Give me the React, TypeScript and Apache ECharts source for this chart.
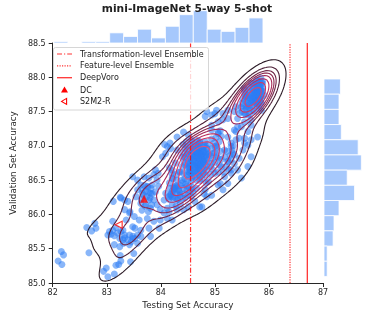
import React, { useEffect, useRef } from "react";
import * as echarts from "echarts";

// [testing set accuracy, validation set accuracy] of the ensembles
const lowerClusterAcc: [number, number][] = [
  [82.63, 85.81], [82.72, 85.76], [82.78, 85.87], [82.8, 85.8], [82.16, 85.46], [82.2, 85.41], [82.1, 85.32], [82.17, 85.27], [82.67, 85.44], [82.99, 85.22],
  [82.94, 85.17], [83.02, 85.09], [83.14, 85.13], [83.17, 85.26], [83.22, 85.27], [83.26, 85.32], [83.25, 85.4], [83.44, 85.31], [83.12, 86.19], [83.25, 86.25],
  [83.33, 86.21], [83.43, 86.04], [83.36, 85.92], [83.14, 85.56], [83.24, 85.53], [83.31, 85.58], [83.39, 85.63], [83.48, 85.65], [83.57, 85.7], [83.33, 85.7],
  [83.5, 85.43], [83.05, 85.75], [83.11, 85.77], [83.17, 85.81], [83.02, 85.7], [83.08, 85.71], [83.14, 85.69], [83.2, 85.73], [83.24, 85.65], [83.3, 85.63],
  [83.26, 85.75], [83.42, 85.7], [83.45, 85.6], [83.11, 85.9], [83.52, 85.8], [83.52, 85.65],
];
const middleClusterAcc: [number, number][] = [
  [84.12, 86.99], [84.18, 86.96], [84.09, 86.89], [83.48, 86.55], [83.57, 86.5], [83.69, 86.55], [83.78, 86.53], [83.87, 86.58], [83.93, 86.5], [83.63, 86.43],
  [83.75, 86.41], [83.84, 86.43], [83.57, 86.36], [83.66, 86.31], [83.81, 86.31], [83.9, 86.33], [83.54, 86.26], [83.78, 86.21], [83.87, 86.21], [83.63, 86.16],
  [83.72, 86.14], [83.81, 86.09], [83.93, 86.14], [83.99, 86.07], [84.06, 86.21], [84.12, 86.09], [84.21, 86.14], [84.3, 86.07], [84.42, 86.07], [83.39, 86.19],
  [83.33, 86.07], [83.42, 86.02], [83.26, 86.24], [83.51, 85.97], [83.6, 85.92], [83.75, 85.94], [83.87, 85.9], [83.99, 85.92], [84.12, 85.94], [83.48, 85.82],
  [83.63, 85.77], [83.78, 85.8], [83.33, 85.66], [83.48, 85.68], [83.63, 85.68], [83.3, 85.77], [83.81, 85.68], [83.97, 85.8], [83.57, 85.58], [83.42, 85.56],
  [84.21, 86.65], [84.3, 86.5], [84.24, 86.38], [84.36, 86.31], [84.45, 86.24], [84.3, 86.21], [84.51, 86.11], [84.63, 86.19], [84.72, 86.11], [84.57, 86.36],
  [84.15, 86.26], [84.17, 87.04], [84.03, 86.84], [83.9, 86.65], [83.95, 86.6], [83.96, 86.41], [84.8, 86.3], [85.1, 86.45], [84.85, 86.26], [84.94, 86.28],
  [84.76, 86.11], [84.06, 86.02], [84.15, 86.04], [84.21, 85.92],
];
const centralClusterAcc: [number, number][] = [
  [85.0, 87.47], [84.82, 87.43], [85.15, 87.38], [84.51, 87.16], [84.57, 87.09], [84.94, 87.23], [85.06, 87.18], [85.24, 87.13], [85.42, 87.28], [85.39, 87.09],
  [84.07, 87.02], [84.3, 86.94], [84.48, 86.99], [84.7, 87.04], [84.82, 87.01], [85.0, 86.99], [85.18, 86.94], [85.33, 86.89], [85.45, 86.82], [84.39, 86.84],
  [84.57, 86.87], [84.72, 86.89], [84.88, 86.87], [85.06, 86.82], [85.24, 86.77], [84.27, 86.75], [84.45, 86.72], [84.63, 86.77], [84.79, 86.77], [84.94, 86.75],
  [85.12, 86.7], [85.3, 86.65], [84.16, 86.68], [84.36, 86.62], [84.54, 86.65], [84.7, 86.67], [84.85, 86.65], [85.0, 86.6], [85.18, 86.55], [84.21, 86.53],
  [84.39, 86.5], [84.57, 86.53], [84.72, 86.5], [84.88, 86.48], [85.06, 86.43], [84.27, 86.41], [84.48, 86.41], [84.66, 86.38], [84.82, 86.36], [84.09, 86.31],
  [84.6, 86.8], [84.65, 86.9], [84.75, 86.85], [84.62, 86.7], [84.68, 86.62], [84.55, 86.75], [84.8, 86.92], [84.58, 86.95], [84.7, 86.72], [84.66, 86.83],
  [84.52, 86.58], [84.78, 86.6], [84.5, 86.88], [84.85, 86.8], [84.63, 86.55], [84.73, 86.97], [84.3, 87.13], [84.42, 87.2],
];
const centralCoreAcc: [number, number][] = [
  [84.62, 86.78], [84.68, 86.85], [84.72, 86.78], [84.66, 86.74], [84.74, 86.92], [84.6, 86.88], [84.7, 86.95], [84.64, 86.68], [84.76, 86.7], [84.58, 86.72],
  [84.68, 87.0], [84.8, 86.85], [84.55, 86.82], [84.72, 86.64], [84.64, 86.62], [84.78, 86.98], [84.6, 86.6], [84.84, 86.9], [84.52, 86.68], [84.7, 86.82],
  [84.66, 86.92], [84.74, 86.75], [84.62, 86.95], [84.56, 86.9], [84.82, 86.72], [84.7, 86.58], [84.58, 86.64], [84.76, 86.88], [84.68, 86.7], [84.64, 86.84],
  [84.5, 86.78], [84.86, 86.96], [84.6, 87.02], [84.8, 86.66], [84.54, 86.6], [84.72, 87.06], [84.66, 86.98], [84.78, 86.8], [84.62, 86.86], [84.7, 86.9],
];
const upperClusterAcc: [number, number][] = [
  [84.85, 87.5], [84.94, 87.45], [85.03, 87.52], [85.15, 87.47], [85.24, 87.52], [85.39, 87.57], [85.42, 87.4], [85.55, 87.35], [85.49, 87.28], [85.39, 87.21],
  [85.45, 87.11], [85.61, 87.21], [85.67, 87.3], [85.3, 87.04], [85.55, 87.04], [85.67, 87.09], [85.79, 87.13], [85.52, 86.94], [85.36, 86.87], [85.67, 86.84],
  [85.61, 86.7], [85.42, 86.65], [85.3, 86.6], [85.49, 86.53], [85.24, 86.45], [85.15, 86.36], [85.36, 87.5], [85.24, 87.4], [85.06, 87.35], [84.94, 87.3],
  [85.36, 87.23], [85.55, 87.11], [85.3, 86.99], [85.61, 87.01],
  [85.7, 87.91], [85.79, 87.89], [85.88, 87.94], [85.85, 87.81], [85.73, 87.79], [85.64, 87.74], [85.79, 87.72], [85.91, 87.74], [85.67, 87.64], [85.76, 87.62],
  [85.85, 87.64], [85.58, 87.57], [85.7, 87.52], [85.82, 87.55], [85.55, 87.47], [85.64, 87.47], [85.85, 87.99], [85.76, 87.94], [85.67, 87.91], [85.88, 87.91],
  [85.79, 87.86], [85.7, 87.81], [85.85, 87.79], [85.73, 87.72], [85.82, 87.69], [85.69, 87.67], [85.78, 87.58], [85.64, 87.55], [85.73, 87.5], [85.61, 87.45],
  [85.55, 87.81], [85.58, 87.72], [85.86, 87.52], [85.67, 87.38],
];
const upperCoreAcc: [number, number][] = [
  [85.78, 87.74], [85.82, 87.8], [85.74, 87.66], [85.8, 87.62], [85.86, 87.72], [85.76, 87.84], [85.84, 87.86], [85.72, 87.76], [85.8, 87.7], [85.88, 87.8],
  [85.7, 87.7], [85.78, 87.9], [85.84, 87.66], [85.76, 87.78], [85.82, 87.94],
];
// points hidden under the dense, overlapping areas (placed so the marginal histograms add up)
const hiddenUpperAcc: [number, number][] = [
  [85.68, 87.58], [85.72, 87.62], [85.76, 87.66], [85.8, 87.74], [85.84, 87.76], [85.88, 87.84], [85.7, 87.72], [85.74, 87.8], [85.78, 87.82], [85.82, 87.88],
  [85.86, 87.92], [85.72, 87.86], [85.76, 87.7], [85.8, 87.6], [85.84, 87.7], [85.68, 87.68], [85.74, 87.9], [85.78, 87.96], [85.82, 87.84], [85.86, 87.62],
  [85.7, 87.78], [85.8, 87.8], [85.76, 87.76], [85.84, 87.82],
  [85.5, 87.5], [85.53, 87.58], [85.56, 87.66], [85.59, 87.74], [85.62, 87.82], [85.64, 87.6], [85.52, 87.68], [85.55, 87.76], [85.58, 87.54], [85.61, 87.62],
  [85.63, 87.7], [85.46, 87.48], [85.5, 87.62], [85.54, 87.84], [85.57, 87.46], [85.6, 87.56], [85.62, 87.76], [85.48, 87.56], [85.56, 87.72], [85.6, 87.66],
  [85.64, 87.86],
  [85.16, 86.62], [85.2, 86.7], [85.24, 86.78], [85.28, 86.86], [85.32, 86.94], [85.36, 86.74], [85.18, 86.84], [85.22, 86.92], [85.26, 86.66], [85.3, 86.8],
  [85.34, 87.0],
];
const hiddenCentralAcc: [number, number][] = [
  [84.92, 86.7], [84.96, 86.82], [85.0, 86.9], [85.04, 86.98], [85.08, 87.06], [85.12, 87.14], [84.94, 86.96], [84.98, 87.04], [85.02, 87.12], [85.06, 87.2],
  [85.1, 86.92], [84.92, 86.86], [84.96, 86.66], [85.0, 86.76], [85.04, 86.84], [85.08, 86.72], [85.12, 86.8], [84.94, 87.1], [84.98, 86.9], [85.02, 87.0],
  [85.06, 86.62], [84.92, 86.58], [85.1, 87.22],
  [84.65, 86.7], [84.68, 86.76], [84.71, 86.82], [84.74, 86.88], [84.77, 86.94], [84.8, 87.0], [84.83, 86.86], [84.86, 86.78], [84.66, 86.92], [84.69, 86.98],
  [84.72, 87.04], [84.75, 86.68], [84.78, 86.74], [84.81, 86.8], [84.84, 86.96], [84.87, 87.02], [84.67, 86.86], [84.7, 86.66], [84.73, 86.72], [84.76, 86.84],
  [84.79, 86.9], [84.82, 87.06], [84.85, 86.7], [84.88, 86.88], [84.68, 87.08], [84.74, 86.8], [84.8, 86.76], [84.7, 86.88],
  [84.66, 86.5], [84.72, 86.56], [84.78, 86.62], [84.84, 86.46], [84.7, 86.6], [84.76, 86.52], [84.82, 86.58],
  [84.4, 86.7], [84.43, 86.76], [84.46, 86.82], [84.49, 86.88], [84.52, 86.94], [84.55, 87.0], [84.58, 87.06], [84.61, 86.72], [84.42, 86.9], [84.45, 86.96],
  [84.48, 86.68], [84.51, 86.74], [84.54, 86.8], [84.57, 86.86], [84.6, 86.92], [84.62, 86.98], [84.41, 87.02], [84.47, 87.06], [84.53, 86.7], [84.59, 86.78],
  [84.44, 86.84], [84.56, 86.9],
  [84.4, 86.46], [84.44, 86.52], [84.48, 86.58], [84.52, 86.62], [84.56, 86.48], [84.6, 86.56], [84.42, 86.6], [84.5, 86.5], [84.58, 86.62], [84.46, 86.44],
  [84.4, 86.24], [84.44, 86.3], [84.48, 86.36], [84.52, 86.4], [84.56, 86.26], [84.6, 86.32], [84.42, 86.38], [84.5, 86.28], [84.58, 86.4], [84.54, 86.34],
];
const hiddenLowerAcc: [number, number][] = [
  [84.16, 86.46], [84.22, 86.52], [84.28, 86.58], [84.34, 86.62], [84.2, 86.6],
  [84.15, 86.22], [84.18, 86.28], [84.21, 86.34], [84.24, 86.4], [84.27, 86.24], [84.3, 86.3], [84.33, 86.36], [84.36, 86.42], [84.17, 86.38], [84.2, 86.26],
  [84.23, 86.32], [84.26, 86.38], [84.29, 86.42], [84.32, 86.22], [84.35, 86.28], [84.19, 86.3], [84.25, 86.36], [84.31, 86.4], [84.34, 86.34], [84.22, 86.24],
  [84.28, 86.12], [84.36, 86.16],
  [83.64, 86.22], [83.68, 86.28], [83.72, 86.34], [83.76, 86.4], [83.8, 86.24], [83.84, 86.3], [83.66, 86.36], [83.7, 86.42], [83.74, 86.26], [83.78, 86.32],
  [83.82, 86.38], [83.65, 86.06], [83.71, 86.12], [83.77, 86.04], [83.83, 86.14],
];

// marginal histograms (counts)
const testHistCounts = [4, 0, 4, 4, 28, 18, 38, 14, 46, 78, 89, 38, 32, 43, 69];
const testHistStart = 82.09;
const testHistBinWidth = 0.2543;
const valHistCountsTopDown = [36, 33, 33, 38, 75, 82, 51, 67, 33, 22, 20, 7, 7];
const valHistTop = 87.975;
const valHistBinWidth = 0.2215;

// reference methods
const transformationEnsembleAcc = 84.55;
const featureEnsembleAcc = 86.39;
const deepVoroAcc = 86.71;
const dcAcc: [number, number] = [83.69, 86.23];
const s2m2rAcc: [number, number] = [83.22, 85.85];

const legendLabels = ["Transformation-level Ensemble", "Feature-level Ensemble", "DeepVoro", "DC", "S2M2-R"];

const X_MIN = 82, X_MAX = 87, X_STEP = 1;
const Y_MIN = 85, Y_MAX = 88.5, Y_STEP = 0.5;

const FONT = "DejaVu Sans";
const RED = "rgba(255,0,0,0.8)";
const DASH_DOT = [5, 2, 1.2, 2];
const DOTTED = [1.2, 1.3];
const BW_ADJUST = 0.82;
const KERNEL_CORR_SCALE = 0.75;
const contourColors = ["#2b1a26", "#4d2038", "#6e2446", "#8b2750", "#a52a58", "#bb2f5e", "#cf3865", "#dd436d", "#e84f75"];

// ---- Gaussian KDE (scott bandwidth, full covariance) + iso-proportion contours ----
function kde2d(pts: [number, number][], gridN: number) {
  const n = pts.length;
  let mx = 0, my = 0;
  pts.forEach(([x, y]) => { mx += x; my += y; });
  mx /= n; my /= n;
  let sxx = 0, syy = 0, sxy = 0;
  pts.forEach(([x, y]) => { sxx += (x - mx) ** 2; syy += (y - my) ** 2; sxy += (x - mx) * (y - my); });
  sxx /= n - 1; syy /= n - 1; sxy /= n - 1;
  const f = Math.pow(n, -1 / 6) * BW_ADJUST;
  const cxx = sxx * f * f, cyy = syy * f * f, cxy = sxy * f * f * KERNEL_CORR_SCALE;
  const det = cxx * cyy - cxy * cxy;
  const ixx = cyy / det, iyy = cxx / det, ixy = -cxy / det;
  const norm = 1 / (n * 2 * Math.PI * Math.sqrt(det));
  const bwx = Math.sqrt(cxx), bwy = Math.sqrt(cyy);
  const xs = pts.map((p) => p[0]), ys = pts.map((p) => p[1]);
  const x0 = Math.min(...xs) - 3 * bwx, x1 = Math.max(...xs) + 3 * bwx;
  const y0 = Math.min(...ys) - 3 * bwy, y1 = Math.max(...ys) + 3 * bwy;
  const gx: number[] = [], gy: number[] = [];
  for (let i = 0; i < gridN; i++) gx.push(x0 + ((x1 - x0) * i) / (gridN - 1));
  for (let j = 0; j < gridN; j++) gy.push(y0 + ((y1 - y0) * j) / (gridN - 1));
  const z: number[][] = [];
  for (let j = 0; j < gridN; j++) {
    const row: number[] = [];
    for (let i = 0; i < gridN; i++) {
      let s = 0;
      for (let k = 0; k < n; k++) {
        const dx = gx[i] - pts[k][0], dy = gy[j] - pts[k][1];
        s += Math.exp(-0.5 * (ixx * dx * dx + 2 * ixy * dx * dy + iyy * dy * dy));
      }
      row.push(s * norm);
    }
    z.push(row);
  }
  return { gx, gy, z };
}

function isoLevels(z: number[][], thresh: number, count: number) {
  const vals = z.flat().sort((a, b) => b - a);
  const total = vals.reduce((a, b) => a + b, 0);
  const cum: number[] = [];
  let c = 0;
  for (const v of vals) { c += v; cum.push(c / total); }
  const levels: number[] = [];
  for (let k = 0; k < count; k++) {
    const p = thresh + ((1 - thresh) * k) / (count - 1);
    const target = 1 - p;
    let idx = cum.findIndex((v) => v >= target);
    if (idx < 0) idx = vals.length - 1;
    levels.push(vals[idx]);
  }
  return levels;
}

const CASES: Record<number, number[][]> = {
  1: [[3, 0]], 2: [[0, 1]], 3: [[3, 1]], 4: [[1, 2]], 5: [[3, 0], [1, 2]], 6: [[0, 2]], 7: [[3, 2]],
  8: [[2, 3]], 9: [[0, 2]], 10: [[0, 1], [2, 3]], 11: [[1, 2]], 12: [[1, 3]], 13: [[0, 1]], 14: [[3, 0]],
};

function contourPolylines(gx: number[], gy: number[], z: number[][], L: number) {
  const nx = gx.length, ny = gy.length;
  const pos = new Map<string, [number, number]>();
  const edge = (t: string, j: number, i: number) => {
    const key = t + j + "_" + i;
    if (!pos.has(key)) {
      if (t === "h") {
        const a = z[j][i], b = z[j][i + 1];
        const r = (L - a) / (b - a);
        pos.set(key, [gx[i] + r * (gx[i + 1] - gx[i]), gy[j]]);
      } else {
        const a = z[j][i], b = z[j + 1][i];
        const r = (L - a) / (b - a);
        pos.set(key, [gx[i], gy[j] + r * (gy[j + 1] - gy[j])]);
      }
    }
    return key;
  };
  const segs: [string, string][] = [];
  for (let j = 0; j < ny - 1; j++) {
    for (let i = 0; i < nx - 1; i++) {
      const code = (z[j][i] > L ? 1 : 0) | (z[j][i + 1] > L ? 2 : 0) | (z[j + 1][i + 1] > L ? 4 : 0) | (z[j + 1][i] > L ? 8 : 0);
      if (code === 0 || code === 15) continue;
      const ek = (e: number) => (e === 0 ? edge("h", j, i) : e === 1 ? edge("v", j, i + 1) : e === 2 ? edge("h", j + 1, i) : edge("v", j, i));
      for (const [e1, e2] of CASES[code]) segs.push([ek(e1), ek(e2)]);
    }
  }
  const adj = new Map<string, number[]>();
  segs.forEach(([a, b], k) => {
    if (!adj.has(a)) adj.set(a, []);
    if (!adj.has(b)) adj.set(b, []);
    adj.get(a)!.push(k);
    adj.get(b)!.push(k);
  });
  const used = new Uint8Array(segs.length);
  const lines: [number, number][][] = [];
  for (let k = 0; k < segs.length; k++) {
    if (used[k]) continue;
    used[k] = 1;
    const line = [segs[k][0], segs[k][1]];
    for (const dir of [1, -1]) {
      let cur = dir === 1 ? line[line.length - 1] : line[0];
      while (true) {
        const next = (adj.get(cur) || []).find((m) => !used[m]);
        if (next === undefined) break;
        used[next] = 1;
        const [a, b] = segs[next];
        cur = a === cur ? b : a;
        if (dir === 1) line.push(cur); else line.unshift(cur);
      }
    }
    lines.push(line.map((key) => pos.get(key)!));
  }
  return lines;
}

export default function App() {
  const ref = useRef<HTMLDivElement>(null);
  useEffect(() => {
    if (!ref.current) return;
    const chart = echarts.init(ref.current, null, { renderer: "svg" });

    const allAcc = [
      ...lowerClusterAcc, ...middleClusterAcc, ...centralClusterAcc, ...centralCoreAcc, ...upperClusterAcc, ...upperCoreAcc,
      ...hiddenUpperAcc, ...hiddenCentralAcc, ...hiddenLowerAcc,
    ];
    const { gx, gy, z } = kde2d(allAcc, 130);
    const levels = isoLevels(z, 0.05, 10).slice(0, 9);
    const contourSeries: any[] = [];
    levels.forEach((L, li) => {
      contourPolylines(gx, gy, z, L).forEach((poly) => {
        if (poly.length < 2) return;
        contourSeries.push({
          type: "line", xAxisIndex: 0, yAxisIndex: 0, data: poly, symbol: "none", showSymbol: false,
          silent: true, z: 3, clip: true,
          lineStyle: { color: contourColors[li], width: 1.1 },
        });
      });
    });

    const testHistData = testHistCounts.map((c, i) => [testHistStart + i * testHistBinWidth, testHistStart + (i + 1) * testHistBinWidth, c]);
    const valHistData = valHistCountsTopDown.map((c, i) => [valHistTop - (i + 1) * valHistBinWidth, valHistTop - i * valHistBinWidth, c]);
    const histStyle = { fill: "#a6c8fc", stroke: "#ffffff", lineWidth: 0.8 };

    const vline = (name: string, x: number, type: any, width: number) => ({
      name, type: "line", xAxisIndex: 0, yAxisIndex: 0, data: [[x, Y_MIN], [x, Y_MAX]],
      symbol: "none", showSymbol: false, silent: true, z: 4,
      lineStyle: { color: RED, width, type },
    });

    const axisCommon = {
      axisLine: { show: true, lineStyle: { color: "#262626", width: 1 } },
      axisTick: { show: true, length: 4, lineStyle: { color: "#262626", width: 1 } },
      splitLine: { show: false },
    };

    const rowY = [54, 65.8, 77.7, 90, 101.4];
    const legendGraphic: any[] = [
      {
        type: "rect", shape: { x: 53.5, y: 47.5, width: 155, height: 62.5, r: 2 },
        style: { fill: "rgba(255,255,255,0.8)", stroke: "#cccccc", lineWidth: 0.8 }, z: 10,
      },
      { type: "line", shape: { x1: 57, y1: rowY[0], x2: 72, y2: rowY[0] }, style: { stroke: RED, lineWidth: 1.2, lineDash: DASH_DOT }, z: 11 },
      { type: "line", shape: { x1: 57, y1: rowY[1], x2: 72, y2: rowY[1] }, style: { stroke: RED, lineWidth: 1.2, lineDash: DOTTED }, z: 11 },
      { type: "line", shape: { x1: 57, y1: rowY[2], x2: 72, y2: rowY[2] }, style: { stroke: RED, lineWidth: 1.3 }, z: 11 },
      {
        type: "polygon", shape: { points: [[64.5, rowY[3] - 3.4], [68, rowY[3] + 2.6], [61, rowY[3] + 2.6]] },
        style: { fill: "#ff0000" }, z: 11,
      },
      {
        type: "polygon", shape: { points: [[61.6, rowY[4]], [66.6, rowY[4] - 3], [66.6, rowY[4] + 3]] },
        style: { fill: "#ffffff", stroke: "#ff0000", lineWidth: 1.1 }, z: 11,
      },
      ...legendLabels.map((t, i) => ({
        type: "text", x: 80, y: rowY[i], z: 11,
        style: { text: t, fontSize: 8, fontFamily: FONT, fill: "#222222", verticalAlign: "middle", align: "left" },
      })),
    ];

    chart.setOption({
      animation: false,
      textStyle: { fontFamily: FONT },
      title: {
        text: "mini-ImageNet 5-way 5-shot", left: "center", top: 3, padding: 0,
        textStyle: { fontSize: 10.7, fontWeight: "bold", color: "#222", fontFamily: FONT },
      },
      grid: [
        { left: 49, top: 43, width: 274, height: 240 },
        { left: 49, top: 8, width: 274, height: 35 },
        { left: 324, top: 43, width: 44, height: 240 },
      ],
      xAxis: [
        {
          gridIndex: 0, type: "value", min: X_MIN, max: X_MAX, interval: X_STEP, ...axisCommon,
          axisLabel: { fontSize: 8, color: "#262626", margin: 5, fontFamily: FONT },
          name: "Testing Set Accuracy", nameLocation: "middle", nameGap: 16,
          nameTextStyle: { fontSize: 8.8, color: "#262626", fontFamily: FONT, verticalAlign: "top" },
        },
        { gridIndex: 1, type: "value", min: X_MIN, max: X_MAX, show: false },
        { gridIndex: 2, type: "value", min: 0, max: 96.6, show: false },
      ],
      yAxis: [
        {
          gridIndex: 0, type: "value", min: Y_MIN, max: Y_MAX, interval: Y_STEP, ...axisCommon,
          axisLabel: { fontSize: 8, color: "#262626", margin: 7, fontFamily: FONT, formatter: (v: number) => v.toFixed(1) },
          name: "Validation Set Accuracy", nameLocation: "middle", nameGap: 29,
          nameTextStyle: { fontSize: 8.8, color: "#262626", fontFamily: FONT },
        },
        { gridIndex: 1, type: "value", min: 0, max: 96.4, show: false },
        { gridIndex: 2, type: "value", min: Y_MIN, max: Y_MAX, show: false },
      ],
      graphic: legendGraphic,
      series: [
        {
          type: "scatter", xAxisIndex: 0, yAxisIndex: 0, data: allAcc, symbolSize: 7, silent: true, z: 2,
          itemStyle: { color: "rgba(45,125,245,0.7)" },
        },
        ...contourSeries,
        vline(legendLabels[0], transformationEnsembleAcc, DASH_DOT, 1.2),
        vline(legendLabels[1], featureEnsembleAcc, DOTTED, 1.2),
        vline(legendLabels[2], deepVoroAcc, "solid", 1.3),
        {
          name: legendLabels[3], type: "scatter", xAxisIndex: 0, yAxisIndex: 0, data: [dcAcc], symbol: "triangle", symbolSize: 8,
          silent: true, z: 5, itemStyle: { color: "#ff0000" },
        },
        {
          name: legendLabels[4], type: "scatter", xAxisIndex: 0, yAxisIndex: 0, data: [s2m2rAcc], symbol: "triangle", symbolSize: 7,
          symbolRotate: 90, silent: true, z: 5, itemStyle: { color: "#ffffff", borderColor: "#ff0000", borderWidth: 1.2 },
        },
        {
          type: "custom", xAxisIndex: 1, yAxisIndex: 1, data: testHistData, silent: true,
          renderItem: (_p: any, api: any) => {
            const c = api.value(2);
            if (!c) return null;
            const a = api.coord([api.value(0), 0]);
            const b = api.coord([api.value(1), c]);
            return { type: "rect", shape: { x: a[0], y: b[1], width: b[0] - a[0], height: a[1] - b[1] }, style: histStyle };
          },
        },
        {
          type: "custom", xAxisIndex: 2, yAxisIndex: 2, data: valHistData, silent: true,
          encode: { x: 2, y: [0, 1] },
          renderItem: (_p: any, api: any) => {
            const c = api.value(2);
            if (!c) return null;
            const a = api.coord([0, api.value(0)]);
            const b = api.coord([c, api.value(1)]);
            return { type: "rect", shape: { x: a[0], y: b[1], width: b[0] - a[0], height: a[1] - b[1] }, style: histStyle };
          },
        },
      ],
    });
    return () => chart.dispose();
  }, []);
  return <div ref={ref} style={{ position: "fixed", left: 0, top: 0, width: 374, height: 320 }} />;
}
